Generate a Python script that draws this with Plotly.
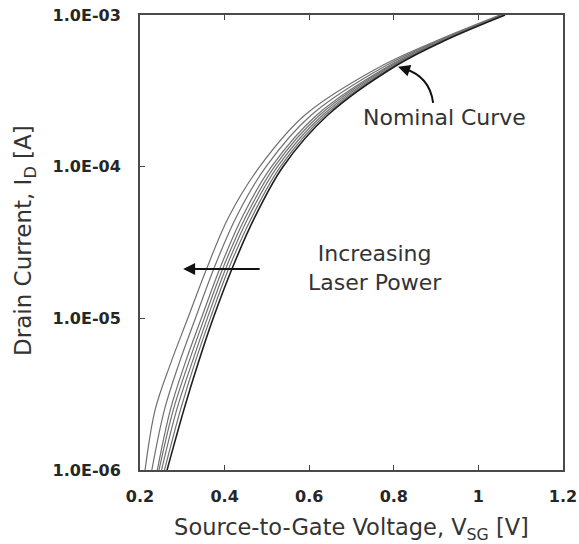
import plotly.graph_objects as go

# Drain current levels (A) at which the curves were read
current_A = [1.0e-6, 2.51e-6, 5.01e-6, 1.0e-5, 2.14e-5, 4.68e-5, 1.0e-4, 2.19e-4, 4.68e-4, 6.84e-4, 1.0e-3]

# Source-to-gate voltage (V) for each curve, highest laser power first
vsg_laser_6 = [0.212, 0.236, 0.272, 0.313, 0.358, 0.410, 0.483, 0.590, 0.775, 0.905, 1.051]
vsg_laser_5 = [0.228, 0.258, 0.292, 0.331, 0.375, 0.428, 0.498, 0.605, 0.784, 0.910, 1.054]
vsg_laser_4 = [0.241, 0.272, 0.306, 0.345, 0.389, 0.442, 0.511, 0.618, 0.792, 0.914, 1.057]
vsg_laser_3 = [0.245, 0.279, 0.314, 0.352, 0.396, 0.450, 0.518, 0.625, 0.796, 0.917, 1.059]
vsg_laser_2 = [0.251, 0.287, 0.322, 0.359, 0.403, 0.457, 0.525, 0.632, 0.800, 0.919, 1.060]
vsg_laser_1 = [0.258, 0.296, 0.329, 0.366, 0.410, 0.465, 0.532, 0.638, 0.804, 0.921, 1.062]
vsg_nominal = [0.264, 0.304, 0.337, 0.373, 0.418, 0.472, 0.538, 0.644, 0.808, 0.923, 1.063]

x_tickvals = [0.2, 0.4, 0.6, 0.8, 1.0, 1.2]
x_ticktext = ["0.2", "0.4", "0.6", "0.8", "1", "1.2"]
y_tickvals = [1e-6, 1e-5, 1e-4, 1e-3]
y_ticktext = ["1.0E-06", "1.0E-05", "1.0E-04", "1.0E-03"]

laser_curves = [vsg_laser_6, vsg_laser_5, vsg_laser_4, vsg_laser_3, vsg_laser_2, vsg_laser_1]

fig = go.Figure()
for v in laser_curves:
    fig.add_trace(go.Scatter(x=v, y=current_A, mode="lines",
                             line=dict(color="#707070", width=1.2, shape="spline", smoothing=1.0),
                             showlegend=False, hoverinfo="skip"))
fig.add_trace(go.Scatter(x=vsg_nominal, y=current_A, mode="lines",
                         line=dict(color="#1e1e1e", width=1.6, shape="spline", smoothing=1.0),
                         showlegend=False, name="Nominal Curve"))

TXT = "#262626"
FONT = "DejaVu Sans"

fig.update_layout(
    width=579, height=544,
    margin=dict(l=140, r=16, t=15, b=74),
    paper_bgcolor="white", plot_bgcolor="white",
    font=dict(family=FONT, color=TXT),
    xaxis=dict(
        range=[0.2, 1.2], tickvals=x_tickvals, ticktext=x_ticktext,
        ticks="inside", ticklen=5, tickcolor="#444", tickwidth=1,
        showline=True, linecolor="#4a4a4a", linewidth=2, mirror="ticks",
        showgrid=False, zeroline=False, automargin=False,
        tickfont=dict(family=FONT, size=16, color=TXT, weight="bold"),
        ticklabelstandoff=11,
        title=dict(text="Source-to-Gate Voltage, V<sub>SG</sub> [V]",
                   font=dict(family=FONT, size=22.5, color="#333"), standoff=16),
    ),
    yaxis=dict(
        type="log", range=[-6, -3], tickvals=y_tickvals, ticktext=y_ticktext,
        ticks="inside", ticklen=5, tickcolor="#444", tickwidth=1,
        showline=True, linecolor="#4a4a4a", linewidth=2, mirror=True,
        showgrid=False, zeroline=False, automargin=False,
        tickfont=dict(family=FONT, size=16, color=TXT, weight="bold"),
        ticklabelstandoff=14,
    ),
)

# Y axis title
fig.add_annotation(x=-0.272, y=0.5055, xref="paper", yref="paper", showarrow=False,
                   text="Drain Current, I<sub>D</sub> [A]", textangle=-90,
                   xanchor="center", yanchor="middle",
                   font=dict(family=FONT, size=23, color="#333"))

# Horizontal arrow: increasing laser power
fig.add_annotation(x=0.302, y=-4.674, xref="x", yref="y", ax=78, ay=0,
                   axref="pixel", ayref="pixel", text="", showarrow=True,
                   arrowhead=2, arrowsize=1.2, arrowwidth=2, arrowcolor="#111")
fig.add_annotation(x=0.755, y=-4.665, xref="x", yref="y", showarrow=False,
                   text="Increasing<br>Laser Power",
                   font=dict(family=FONT, size=22, color="#333"), align="center")

# Curved arrow to nominal curve
fig.add_shape(type="path", xref="paper", yref="paper",
              path="M 0.693,0.807 Q 0.685,0.865 0.625,0.882",
              line=dict(color="#111", width=2))
fig.add_annotation(x=0.610, y=0.886, xref="paper", yref="paper", ax=9, ay=3,
                   text="", showarrow=True, arrowhead=2, arrowsize=1.2,
                   arrowwidth=2, arrowcolor="#111")
fig.add_annotation(x=0.921, y=-3.679, xref="x", yref="y", showarrow=False,
                   text="Nominal Curve",
                   font=dict(family=FONT, size=22, color="#333"))

fig.write_html("out.html")
